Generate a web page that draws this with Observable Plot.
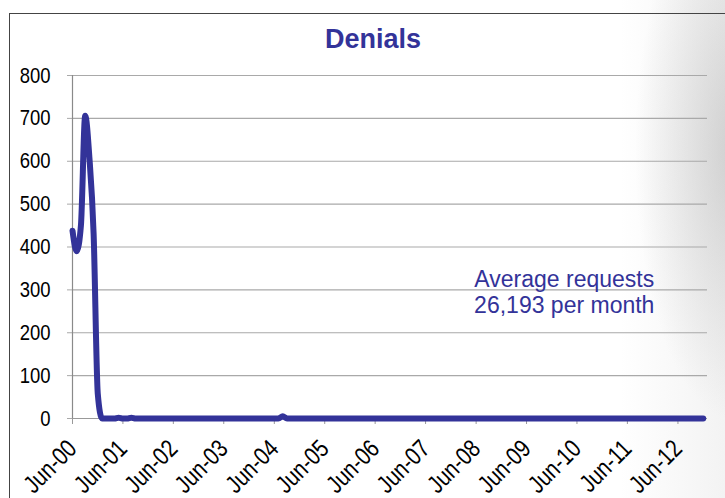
<!DOCTYPE html>
<html>
<head>
<meta charset="utf-8">
<script src="https://cdn.jsdelivr.net/npm/d3@7"></script>
<script src="https://cdn.jsdelivr.net/npm/@observablehq/plot@0.6"></script>
<style>
  html, body { margin: 0; padding: 0; background: #fff; }
  #wrap {
    position: relative; width: 725px; height: 498px; overflow: hidden;
    background:
      radial-gradient(ellipse 100px 270px at 735px 150px, rgba(150,150,150,0.38), rgba(200,200,200,0) 100%),
      linear-gradient(to right, rgba(255,255,255,0) 620px, rgba(215,215,215,0.30) 725px);
  }
  #border {
    position: absolute; left: 9px; top: 13px; right: -10px; bottom: -10px;
    border-left: 1.5px solid #444; border-top: 1.5px solid #444;
  }
  #title {
    position: absolute; top: 26px; left: 0; width: 746px; text-align: center;
    font: bold 27px/27px "Liberation Sans", Arial, sans-serif;
    color: #333399;
  }
  #chart { position: absolute; left: 0; top: 0; }
</style>
</head>
<body>
<div id="wrap">
  <div id="border"></div>
  <div id="title">Denials</div>
  <div id="chart"></div>
</div>
<script>
// ---- data ----
const firstMonth = "2000-06";   // first monthly observation
const lastAxisMonth = "2013-01"; // end of the time axis
// monthly denials, Jun-00 .. Dec-12
const values2000 = [438, 390, 450, 706, 610, 430, 58];         // Jun..Dec
const values2001 = [0, 0, 0, 0, 2, 0, 0, 2, 0, 0, 0, 0];
const values2002 = [0, 0, 0, 0, 0, 0, 0, 0, 0, 0, 0, 0];
const values2003 = [0, 0, 0, 0, 0, 0, 0, 0, 0, 0, 0, 0];
const values2004 = [0, 0, 0, 0, 0, 0, 0, 5, 0, 0, 0, 0];
const values2005 = [0, 0, 0, 0, 0, 0, 0, 0, 0, 0, 0, 0];
const values2006 = [0, 0, 0, 0, 0, 0, 0, 0, 0, 0, 0, 0];
const values2007 = [0, 0, 0, 0, 0, 0, 0, 0, 0, 0, 0, 0];
const values2008 = [0, 0, 0, 0, 0, 0, 0, 0, 0, 0, 0, 0];
const values2009 = [0, 0, 0, 0, 0, 0, 0, 0, 0, 0, 0, 0];
const values2010 = [0, 0, 0, 0, 0, 0, 0, 0, 0, 0, 0, 0];
const values2011 = [0, 0, 0, 0, 0, 0, 0, 0, 0, 0, 0, 0];
const values2012 = [0, 0, 0, 0, 0, 0, 0, 0, 0, 0, 0, 0];
const tickLabels = ["Jun-00","Jun-01","Jun-02","Jun-03","Jun-04","Jun-05","Jun-06",
                    "Jun-07","Jun-08","Jun-09","Jun-10","Jun-11","Jun-12"];
const yTicks = [0, 100, 200, 300, 400, 500, 600, 700, 800];
const yDomain = [0, 800];
const noteLines = ["Average requests", "26,193 per month"];
const noteMonth = "2010-03";
const noteValue = 295;

// ---- build table ----
const parseMonth = d3.utcParse("%Y-%m");
const parseTick = d3.utcParse("%b-%y");
const allValues = [].concat(values2000, values2001, values2002, values2003, values2004,
  values2005, values2006, values2007, values2008, values2009, values2010, values2011, values2012);
const start = parseMonth(firstMonth);
const data = allValues.map((v, i) => ({date: d3.utcMonth.offset(start, i), value: v}));
const tickDates = tickLabels.map(parseTick);
const notes = [{date: parseMonth(noteMonth), value: noteValue, text: noteLines.join("\n")}];

const regular = '"Liberation Sans", Arial, sans-serif';

const chart = Plot.plot({
  width: 725,
  height: 498,
  marginTop: 75,
  marginLeft: 72,
  marginRight: 18,
  marginBottom: 80,
  style: {background: "transparent", fontFamily: regular, color: "#000", overflow: "visible"},
  x: {type: "utc", domain: [start, parseMonth(lastAxisMonth)]},
  y: {domain: yDomain},
  marks: [
    Plot.gridY(yTicks, {stroke: "#a9a9a9", strokeOpacity: 1, strokeWidth: 1.2}),
    Plot.axisY(yTicks, {tickSize: 5, tickPadding: 17, stroke: "#a9a9a9", fill: "#000",
      fontSize: 22, fontFamily: regular, label: null}),
    Plot.ruleX([start], {stroke: "#8a8a8a", strokeWidth: 1.2}),
    Plot.ruleY([0], {stroke: "#999", strokeWidth: 1.2}),
    Plot.axisX(tickDates, {tickSize: 6, tickRotate: -45, tickPadding: 20, stroke: "#999",
      fill: "#000", fontSize: 25, fontFamily: regular, tickFormat: d3.utcFormat("%b-%y"),
      label: null}),
    Plot.line(data, {x: "date", y: "value", stroke: "#333399", strokeWidth: 6,
      curve: "monotone-x", strokeLinejoin: "round", strokeLinecap: "round"}),
    Plot.text(notes, {x: "date", y: "value", text: "text", fill: "#333399", fontSize: 23,
      fontFamily: regular, lineHeight: 26 / 23, textAnchor: "middle", lineAnchor: "middle"})
  ]
});

// condense the tick labels (the original uses a narrow face)
function squeeze(label, k) {
  chart.querySelectorAll(`g[aria-label="${label}"] text`).forEach(t => {
    const x = +t.getAttribute("x") || 0, y = +t.getAttribute("y") || 0;
    const tr = t.getAttribute("transform") || "";
    t.setAttribute("transform", `${tr} translate(${x},${y}) scale(${k},1) translate(${-x},${-y})`);
  });
}
squeeze("y-axis tick label", 0.84);
squeeze("x-axis tick label", 0.82);

document.getElementById("chart").appendChild(chart);
</script>
</body>
</html>
